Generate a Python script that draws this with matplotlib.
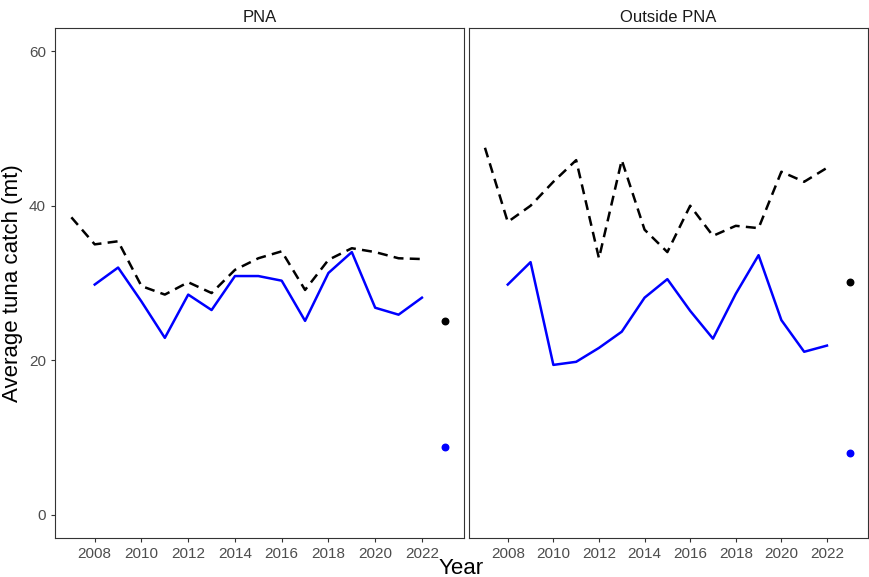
import matplotlib
matplotlib.use("Agg")
import matplotlib.pyplot as plt

plt.rcParams["font.family"] = ["Liberation Sans", "DejaVu Sans"]

years = list(range(2007, 2023))
pna_all = [38.5, 35.0, 35.4, 29.6, 28.5, 30.1, 28.7, 31.7, 33.2, 34.1, 29.1, 33.0, 34.5, 34.0, 33.2, 33.1]
pna_blue_years = list(range(2008, 2023))
pna_blue = [29.8, 32.0, 27.6, 22.9, 28.5, 26.5, 30.9, 30.9, 30.3, 25.1, 31.3, 34.0, 26.8, 25.9, 28.1]
out_all = [47.5, 37.9, 40.0, 43.1, 45.9, 33.2, 45.9, 36.9, 34.0, 40.0, 36.1, 37.4, 37.1, 44.4, 43.1, 44.9]
out_blue = [29.8, 32.7, 19.4, 19.8, 21.6, 23.7, 28.1, 30.5, 26.4, 22.8, 28.6, 33.6, 25.2, 21.1, 21.9]
point_year = 2023
pna_points = [25.1, 8.8]   # black, blue
out_points = [30.1, 8.0]

panels = [("PNA", pna_all, pna_blue, pna_points),
          ("Outside PNA", out_all, out_blue, out_points)]

fig = plt.figure(figsize=(8.7, 5.77), dpi=100)
W, H = 870, 577
boxes = [(55, 464), (469, 868)]
top, bottom = 28, 538

for (title, black, blue, pts), (x0, x1) in zip(panels, boxes):
    ax = fig.add_axes([x0 / W, 1 - bottom / H, (x1 - x0) / W, (bottom - top) / H])
    ax.plot(years, black, color="black", linestyle=(0, (4, 2.5)), linewidth=1.8)
    ax.plot(pna_blue_years, blue, color="blue", linewidth=1.8)
    ax.scatter([point_year], [pts[0]], color="black", s=22, zorder=3)
    ax.scatter([point_year], [pts[1]], color="blue", s=22, zorder=3)
    ax.set_xlim(2006.3, 2023.8)
    ax.set_ylim(-3, 63)
    ax.set_xticks(range(2008, 2023, 2))
    ax.set_yticks([0, 20, 40, 60])
    ax.tick_params(labelsize=11, colors="#4d4d4d", length=3)
    ax.tick_params(axis="both", color="#333333")
    for s in ax.spines.values():
        s.set_color("#333333")
        s.set_linewidth(0.8)
    if x0 != 55:
        ax.set_yticklabels([])
        ax.tick_params(axis="y", length=0)
    else:
        ax.set_ylabel("Average tuna catch (mt)", fontsize=16)
    ax.set_title(title, fontsize=12, color="#1a1a1a", pad=4)

fig.text((55 + 868) / 2 / W, 1 - 568 / H, "Year", ha="center", va="center", fontsize=16)
fig.savefig("out.png", dpi=100)
